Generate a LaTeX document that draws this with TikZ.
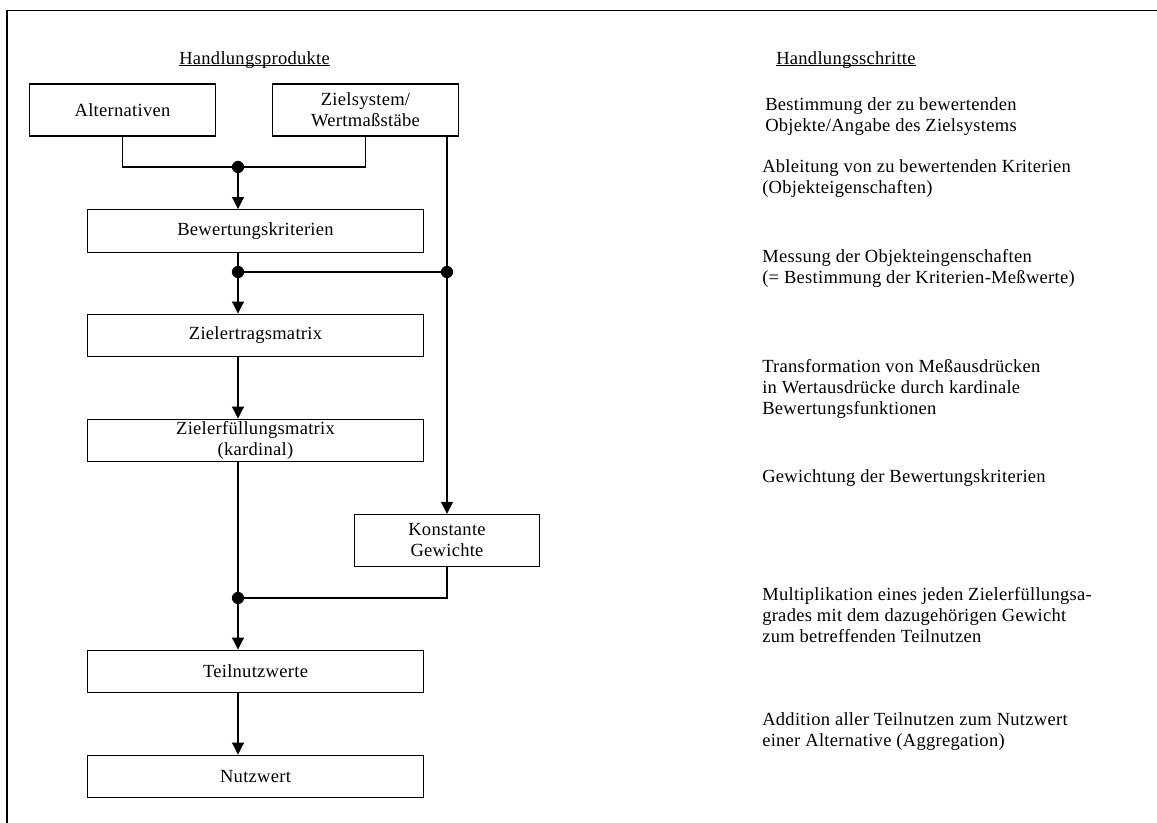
\documentclass[tikz,border=0pt]{standalone}
\usepackage{fontspec}
\setmainfont{Liberation Serif}[LetterSpace=1.5]
\usetikzlibrary{arrows.meta}

\begin{document}
\begin{tikzpicture}[x=0.75pt,y=-0.75pt,
  font=\fontsize{13.9pt}{15.75pt}\selectfont,
  box/.style={draw,line width=0.95pt,align=center,inner sep=0pt},
  narrowbox/.style={box,minimum width=139pt,minimum height=39pt},
  widebox/.style={box,minimum width=251.5pt,minimum height=32pt},
  link/.style={line width=0.8pt},
  flow/.style={link,-{Triangle[width=9pt,length=9pt]}},
  dot/.style={fill},
  steptext/.style={anchor=west,align=left,inner sep=0pt},
  heading/.style={anchor=base west,inner sep=0pt}]

\useasboundingbox (0,0) rectangle (1157,823);

% outer frame (top and left edges)
\draw[line width=1.4pt] (7,823) -- (7,10.5) -- (1157,10.5);

% column headings
\node[heading] (hp) at (179,64.3) {Handlungsprodukte};
\draw[line width=0.6pt] ([yshift=-1.2pt]hp.base west) -- ([yshift=-1.2pt]hp.base east);
\node[heading] (hs) at (776,64.3) {Handlungsschritte};
\draw[line width=0.6pt] ([yshift=-1.2pt]hs.base west) -- ([yshift=-1.2pt]hs.base east);

% products
\node[narrowbox] (alt)  at (122.5,110) {Alternativen};
\node[narrowbox] (ziel) at (365.5,110) {Zielsystem/\\Wertmaßstäbe};
\node[widebox]   (bew)  at (255.5,231) {Bewertungskriterien};
\node[widebox]   (zet)  at (255.5,335.5) {Zielertragsmatrix};
\node[widebox]   (zef)  at (255.5,440.5) {Zielerfüllungsmatrix\\(kardinal)};
\node[narrowbox] (kon)  at (447,540.5) {Konstante\\Gewichte};
\node[widebox]   (teil) at (255.5,671.5) {Teilnutzwerte};
\node[widebox]   (nutz) at (255.5,776.5) {Nutzwert};

% junctions
\coordinate (j1) at (238,167);
\coordinate (j2) at (238,272);
\coordinate (j3) at (447,272);
\coordinate (j4) at (238,598);

% connectors
\draw[link] (alt.south) |- (j1) -| (ziel.south);
\draw[flow] (j1) -- (j1 |- bew.north);
\draw[link] (j2 |- bew.south) -- (j2);
\draw[flow] (j2) -- (j2 |- zet.north);
\draw[link] (j2) -- (j3);
\draw[flow] (kon.north |- ziel.south) -- (kon.north);
\draw[flow] (j2 |- zet.south) -- (j2 |- zef.north);
\draw[link] (j4 |- zef.south) -- (j4);
\draw[link] (j4) -| (kon.south);
\draw[flow] (j4) -- (j4 |- teil.north);
\draw[flow] (j4 |- teil.south) -- (j4 |- nutz.north);

\fill[dot] (j1) circle[radius=4.6pt];
\fill[dot] (j2) circle[radius=4.6pt];
\fill[dot] (j3) circle[radius=4.6pt];
\fill[dot] (j4) circle[radius=4.6pt];

% steps
\node[steptext] (s1) at (765,117) {Bestimmung der zu bewertenden\\Objekte/Angabe des Zielsystems};
\node[steptext] (s2) at (762,179) {Ableitung von zu bewertenden Kriterien\\(Objekteigenschaften)};
\node[steptext] (s3) at (762,268) {Messung der Objekteingenschaften\\(= Bestimmung der Kriterien-Meßwerte)};
\node[steptext] (s4) at (762,389) {Transformation von Meßausdrücken\\in Wertausdrücke durch kardinale\\Bewertungsfunktionen};
\node[steptext] (s5) at (762,478) {Gewichtung der Bewertungskriterien};
\node[steptext] (s6) at (762,615) {Multiplikation eines jeden Zielerfüllungsa-\\grades mit dem dazugehörigen Gewicht\\zum betreffenden Teilnutzen};
\node[steptext] (s7) at (762,731.5) {Addition aller Teilnutzen zum Nutzwert\\einer Alternative (Aggregation)};
\end{tikzpicture}
\end{document}
